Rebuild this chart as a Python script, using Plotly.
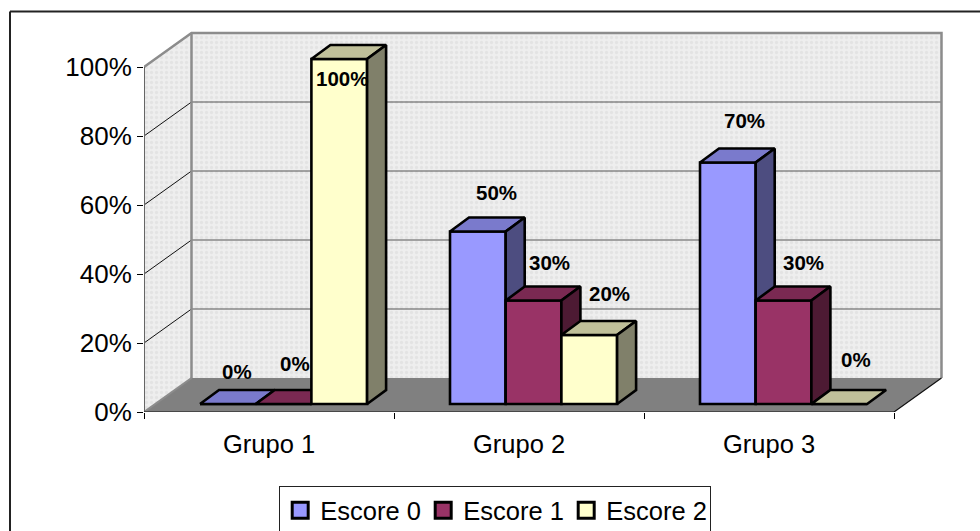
import plotly.graph_objects as go

# ---- data ----
categories = ["Grupo 1", "Grupo 2", "Grupo 3"]
series_names = ["Escore 0", "Escore 1", "Escore 2"]
escore_0 = [0, 50, 70]
escore_1 = [0, 30, 30]
escore_2 = [100, 20, 0]
y_ticks = [0, 20, 40, 60, 80, 100]
y_tick_labels = ["0%", "20%", "40%", "60%", "80%", "100%"]

# ---- styles ----
front_colors = ["#9999FF", "#993366", "#FFFFCC"]
top_colors = ["#7A7ACC", "#7A2952", "#C0C09A"]
side_colors = ["#4D4D80", "#4D1A33", "#80806A"]
FONT = "Liberation Sans, Arial, sans-serif"
EDGE = 2.6

# pixel scale of the axes
PX_X, PX_Y = 250.0, 3.45
X0, X1 = -0.5, 2.5
WALL_DX, WALL_DY = 47.5 / PX_X, 34 / PX_Y          # depth of the floor
BAR_BASE = 8 / PX_Y                                 # bars stand a bit behind the front edge
DEPTH_X, DEPTH_Y = 19 / PX_X, 14 / PX_Y             # depth of a bar
BAR_W = 55.7 / PX_X
BAR_START = -69 / PX_X

# data-label offsets (px, relative to the top-front centre of each bar), by series and group
label_shift_x = [[9, 19, 17], [11.5, 15.5, 20], [3, 20, 17]]
label_shift_y = [[33, 39.5, 42], [41, 38.5, 38.5], [-19, 42, 45]]

series = [escore_0, escore_1, escore_2]
xpos = list(range(len(categories)))
fig = go.Figure()


def poly(xs, ys, fill=None, line=None, width=0, axis="", pattern=None):
    kw = {}
    if pattern:
        kw["fillpattern"] = pattern
    fig.add_trace(go.Scatter(
        x=xs, y=ys, mode="lines", fill="toself" if fill or pattern else "none",
        fillcolor=fill, line=dict(color=line or "rgba(0,0,0,0)", width=width),
        xaxis="x" + axis, yaxis="y" + axis, showlegend=False, hoverinfo="skip",
        cliponaxis=False, **kw))


# walls and floor
grain = dict(shape=".", size=5, solidity=0.35, fgcolor="#D8D8D8", bgcolor="#EEEEEE")
top = y_ticks[-1]
poly([X0, X0 + WALL_DX, X0 + WALL_DX, X0, X0], [0, WALL_DY, top + WALL_DY, top, 0], pattern=grain)
poly([X0 + WALL_DX, X1 + WALL_DX, X1 + WALL_DX, X0 + WALL_DX, X0 + WALL_DX],
     [WALL_DY, WALL_DY, top + WALL_DY, top + WALL_DY, WALL_DY], pattern=grain)
poly([X0, X1, X1 + WALL_DX, X0 + WALL_DX, X0], [0, 0, WALL_DY, WALL_DY, 0], fill="#808080")

# grid lines
for v in y_ticks[1:-1]:
    poly([X0, X0 + WALL_DX], [v, v + WALL_DY], line="#111111", width=1)
    poly([X0 + WALL_DX, X1 + WALL_DX], [v + WALL_DY, v + WALL_DY], line="#555555", width=1.2)

# wall edges
poly([X0, X0 + WALL_DX, X1 + WALL_DX, X1 + WALL_DX], [top, top + WALL_DY, top + WALL_DY, WALL_DY],
     line="#8C8C8C", width=2.5)
poly([X0 + WALL_DX, X0 + WALL_DX], [WALL_DY, top + WALL_DY], line="#8C8C8C", width=2.5)
poly([X0, X0 + WALL_DX], [0, WALL_DY], line="#8C8C8C", width=2)
poly([X0, X0], [0, top], line="#666666", width=2)
poly([X0, X1, X1 + WALL_DX], [0, 0, WALL_DY], line="#111111", width=1.2)

# one overlaid subplot per series, so each series paints over the previous one
for i, vals in enumerate(series):
    ax = str(i + 2)
    start = BAR_START + i * BAR_W
    fig.add_trace(go.Bar(
        x=xpos, y=vals, base=[BAR_BASE] * len(vals), name=series_names[i],
        width=[BAR_W] * len(vals), offset=[start] * len(vals),
        marker=dict(color=front_colors[i], line=dict(color="black", width=EDGE)),
        xaxis="x" + ax, yaxis="y" + ax, showlegend=False, hoverinfo="x+y"))
    for x, v in zip(xpos, vals):
        xl, xr = x + start, x + start + BAR_W
        yb, yt = BAR_BASE, BAR_BASE + v
        poly([xl, xr, xr + DEPTH_X, xl + DEPTH_X, xl],
             [yt, yt, yt + DEPTH_Y, yt + DEPTH_Y, yt],
             fill=top_colors[i], line="black", width=EDGE, axis=ax)
        if v > 0:
            poly([xr, xr + DEPTH_X, xr + DEPTH_X, xr, xr],
                 [yb, yb + DEPTH_Y, yt + DEPTH_Y, yt, yb],
                 fill=side_colors[i], line="black", width=EDGE, axis=ax)
    # legend keys
    fig.add_trace(go.Scatter(
        x=[None], y=[None], mode="markers", name=series_names[i],
        marker=dict(symbol="square", size=16, color=front_colors[i],
                    line=dict(color="black", width=3)),
        xaxis="x" + ax, yaxis="y" + ax, showlegend=True))
    for j, (x, v) in enumerate(zip(xpos, vals)):
        fig.add_annotation(
            x=x + start + BAR_W / 2, y=BAR_BASE + v, xref="x" + ax, yref="y" + ax,
            text=f"<b>{v}%</b>", showarrow=False,
            xshift=label_shift_x[i][j], yshift=label_shift_y[i][j],
            font=dict(family=FONT, size=20.5, color="black"))

xrange = [X0, X0 + 802 / PX_X]
yrange = [0, 382 / PX_Y]
layout = dict(
    width=980, height=531, autosize=False,
    margin=dict(l=144, r=34, t=30, b=119, pad=0),
    paper_bgcolor="white", plot_bgcolor="rgba(0,0,0,0)",
    font=dict(family=FONT, color="black", size=26),
    barmode="overlay",
    xaxis=dict(range=xrange, tickmode="array", tickvals=xpos, ticktext=categories, ticks="",
               showgrid=False, zeroline=False, showline=False, ticklabelstandoff=14,
               tickfont=dict(size=25.5, family=FONT),
               minor=dict(tickmode="array", tickvals=[X0, 0.5, 1.5, X1], ticks="outside",
                          ticklen=6, tickwidth=1.2, tickcolor="black", showgrid=False)),
    yaxis=dict(range=yrange, tickmode="array", tickvals=y_ticks, ticktext=y_tick_labels,
               ticks="outside", ticklen=6, tickwidth=1.2, tickcolor="black", showgrid=False,
               zeroline=False, showline=False, tickfont=dict(size=26, family=FONT)),
    legend=dict(orientation="h", xref="container", yref="container", xanchor="left", yanchor="top",
                x=279 / 980, y=1 - 486 / 531, bgcolor="white", bordercolor="#222222",
                borderwidth=1.2, font=dict(size=25.5, family=FONT), itemclick=False,
                itemdoubleclick=False, traceorder="normal", entrywidth=98,
                entrywidthmode="pixels"),
    shapes=[
        dict(type="line", xref="paper", yref="paper", x0=(10 - 144) / 802, x1=(985 - 144) / 802,
             y0=(412 - 11.5) / 382, y1=(412 - 11.5) / 382, line=dict(color="#222222", width=2)),
        dict(type="line", xref="paper", yref="paper", x0=(10 - 144) / 802, x1=(10 - 144) / 802,
             y0=(412 - 11.5) / 382, y1=(412 - 535) / 382, line=dict(color="#222222", width=2)),
    ],
)
for n in (2, 3, 4):
    layout[f"xaxis{n}"] = dict(range=xrange, overlaying="x", visible=False)
    layout[f"yaxis{n}"] = dict(range=yrange, overlaying="y", visible=False)
fig.update_layout(**layout)

fig.write_html("out.html", config=dict(displayModeBar=False),
               post_script="document.body.style.margin='0';")
